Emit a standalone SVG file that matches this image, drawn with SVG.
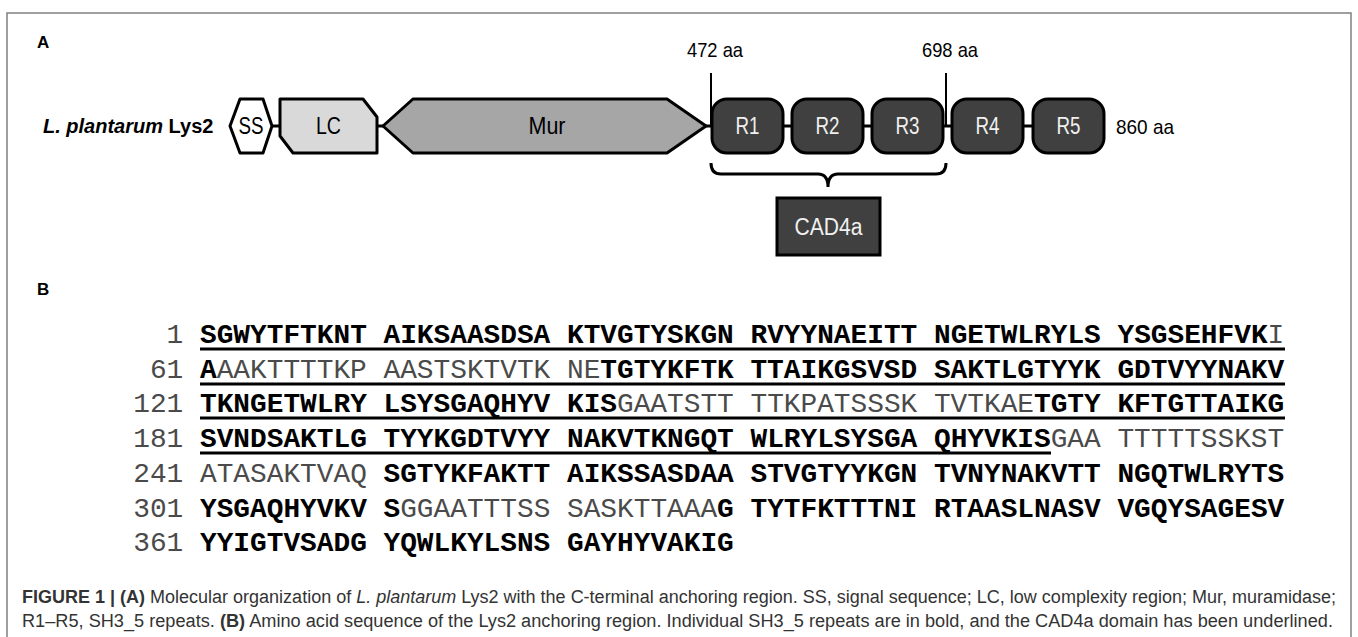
<svg xmlns="http://www.w3.org/2000/svg" width="1358" height="637" viewBox="0 0 1358 637">
<style>
.sans{font-family:"Liberation Sans",Arial,sans-serif}
.lbl{font-family:"Liberation Sans",Arial,sans-serif;font-size:23px;text-anchor:middle}
.shape{stroke:#000;stroke-width:3;stroke-linejoin:round}
.rep{fill:#404040;stroke:#000;stroke-width:3}
.wt{fill:#f0f0f0}
.conn{stroke:#000;stroke-width:3;fill:none}
.seq{font-family:"Liberation Mono","Courier New",monospace;font-size:27.8px}
.b{font-weight:bold;fill:#000}
.n{font-weight:normal;fill:#4a4a4a}
.ul{stroke:#000;stroke-width:3}
.cap{font-family:"Liberation Sans",Arial,sans-serif;font-size:18px;fill:#333}
</style>
<rect x="7" y="13" width="1344" height="640" fill="none" stroke="#808080" stroke-width="1.5"/>
<text class="sans" x="37" y="48" font-size="17" font-weight="bold">A</text>
<text class="sans" x="37" y="295" font-size="17" font-weight="bold">B</text>

<g id="connectors">
<line class="conn" x1="272" y1="126" x2="281" y2="126"/>
<line class="conn" x1="377" y1="126" x2="384" y2="126"/>
<line class="conn" x1="705" y1="126" x2="713" y2="126"/>
<line class="conn" x1="782" y1="126" x2="793" y2="126"/>
<line class="conn" x1="862" y1="126" x2="873" y2="126"/>
<line class="conn" x1="943" y1="126" x2="953" y2="126"/>
<line class="conn" x1="1023" y1="126" x2="1034" y2="126"/>
<line stroke="#000" stroke-width="2" x1="711" y1="73" x2="711" y2="126"/>
<line stroke="#000" stroke-width="2" x1="946" y1="73" x2="946" y2="126"/>
<path class="conn" d="M711,163 Q711,174 721,174 L818,174 Q828,174 828,187 Q828,174 838,174 L936,174 Q946,174 946,163"/>
</g>

<g id="label-protein"><text class="sans" x="43" y="133" font-size="20" font-weight="bold"><tspan font-style="italic">L. plantarum</tspan> Lys2</text></g>
<g id="pos-472"><text class="sans" x="687" y="57" font-size="21" textLength="56" lengthAdjust="spacingAndGlyphs">472 aa</text></g>
<g id="pos-698"><text class="sans" x="922" y="57" font-size="21" textLength="56" lengthAdjust="spacingAndGlyphs">698 aa</text></g>
<g id="pos-860"><text class="sans" x="1116" y="134" font-size="21" textLength="58" lengthAdjust="spacingAndGlyphs">860 aa</text></g>

<g id="SS"><polygon class="shape" fill="#fff" points="230,126 240,99 263,99 272,126 263,153 240,153"/><text class="lbl" x="251" y="134" textLength="25" lengthAdjust="spacingAndGlyphs">SS</text></g>
<g id="LC"><polygon class="shape" fill="#d9d9d9" points="280,99 363,99 377,117 377,153 293,153 280,136"/><text class="lbl" x="328.5" y="134" textLength="25" lengthAdjust="spacingAndGlyphs">LC</text></g>
<g id="Mur"><polygon class="shape" fill="#a6a6a6" points="383,126 413,99 667,99 706,126 667,153 413,153"/><text class="lbl" x="547" y="134" textLength="37" lengthAdjust="spacingAndGlyphs">Mur</text></g>
<g id="R1"><rect class="rep" x="712" y="99" width="71" height="54" rx="15"/><text class="lbl wt" x="747.5" y="134" textLength="24" lengthAdjust="spacingAndGlyphs">R1</text></g>
<g id="R2"><rect class="rep" x="792" y="99" width="71" height="54" rx="15"/><text class="lbl wt" x="827.5" y="134" textLength="24" lengthAdjust="spacingAndGlyphs">R2</text></g>
<g id="R3"><rect class="rep" x="872" y="99" width="71" height="54" rx="15"/><text class="lbl wt" x="907.5" y="134" textLength="24" lengthAdjust="spacingAndGlyphs">R3</text></g>
<g id="R4"><rect class="rep" x="952" y="99" width="71" height="54" rx="15"/><text class="lbl wt" x="987.5" y="134" textLength="24" lengthAdjust="spacingAndGlyphs">R4</text></g>
<g id="R5"><rect class="rep" x="1033" y="99" width="71" height="54" rx="15"/><text class="lbl wt" x="1068.5" y="134" textLength="24" lengthAdjust="spacingAndGlyphs">R5</text></g>
<g id="CAD4a"><rect class="rep" x="777" y="198" width="103" height="57"/><text class="lbl wt" x="828.5" y="235" font-size="24" textLength="68" lengthAdjust="spacingAndGlyphs">CAD4a</text></g>

<g id="sequence" class="seq" xml:space="preserve">
<text class="n" x="183.3" y="343" text-anchor="end">1</text>
<text y="343"><tspan class="b" x="200">SGWYTFTKNT AIKSAASDSA KTVGTYSKGN RVYYNAEITT NGETWLRYLS YSGSEHFVK</tspan><tspan class="n" x="1267.5">I</tspan></text>
<line class="ul" x1="200" y1="349" x2="1285" y2="349"/>

<text class="n" x="183.3" y="378" text-anchor="end">61</text>
<text y="378"><tspan class="b" x="200">A</tspan><tspan class="n" x="216.68">AAKTTTTKP AASTSKTVTK NE</tspan><tspan class="b" x="600.3">TGTYKFTK TTAIKGSVSD SAKTLGTYYK GDTVYYNAKV</tspan></text>
<line class="ul" x1="200" y1="384" x2="1285" y2="384"/>

<text class="n" x="183.3" y="412" text-anchor="end">121</text>
<text y="412"><tspan class="b" x="200">TKNGETWLRY LSYSGAQHYV KIS</tspan><tspan class="n" x="617">GAATSTT TTKPATSSSK TVTKAE</tspan><tspan class="b" x="1034">TGTY KFTGTTAIKG</tspan></text>
<line class="ul" x1="200" y1="418" x2="1285" y2="418"/>

<text class="n" x="183.3" y="447" text-anchor="end">181</text>
<text y="447"><tspan class="b" x="200">SVNDSAKTLG TYYKGDTVYY NAKVTKNGQT WLRYLSYSGA QHYVKIS</tspan><tspan class="n" x="1050.7">GAA TTTTTSSKST</tspan></text>
<line class="ul" x1="200" y1="453" x2="1051" y2="453"/>

<text class="n" x="183.3" y="482" text-anchor="end">241</text>
<text y="482"><tspan class="n" x="200">ATASAKTVAQ</tspan><tspan class="b" x="366.8"> SGTYKFAKTT AIKSSASDAA STVGTYYKGN TVNYNAKVTT NGQTWLRYTS</tspan></text>

<text class="n" x="183.3" y="517" text-anchor="end">301</text>
<text y="517"><tspan class="b" x="200">YSGAQHYVKV S</tspan><tspan class="n" x="400.2">GGAATTTSS SASKTTAAA</tspan><tspan class="b" x="717.1">G TYTFKTTTNI RTAASLNASV VGQYSAGESV</tspan></text>

<text class="n" x="183.3" y="551" text-anchor="end">361</text>
<text y="551"><tspan class="b" x="200">YYIGTVSADG YQWLKYLSNS GAYHYVAKIG</tspan></text>
</g>

<g id="caption" class="cap">
<text x="22" y="603" textLength="1314" lengthAdjust="spacingAndGlyphs"><tspan font-weight="bold">FIGURE 1 | (A)</tspan> Molecular organization of <tspan font-style="italic">L. plantarum</tspan> Lys2 with the C-terminal anchoring region. SS, signal sequence; LC, low complexity region; Mur, muramidase;</text>
<text x="22" y="627" textLength="1311" lengthAdjust="spacingAndGlyphs">R1–R5, SH3_5 repeats. <tspan font-weight="bold">(B)</tspan> Amino acid sequence of the Lys2 anchoring region. Individual SH3_5 repeats are in bold, and the CAD4a domain has been underlined.</text>
</g>
</svg>
